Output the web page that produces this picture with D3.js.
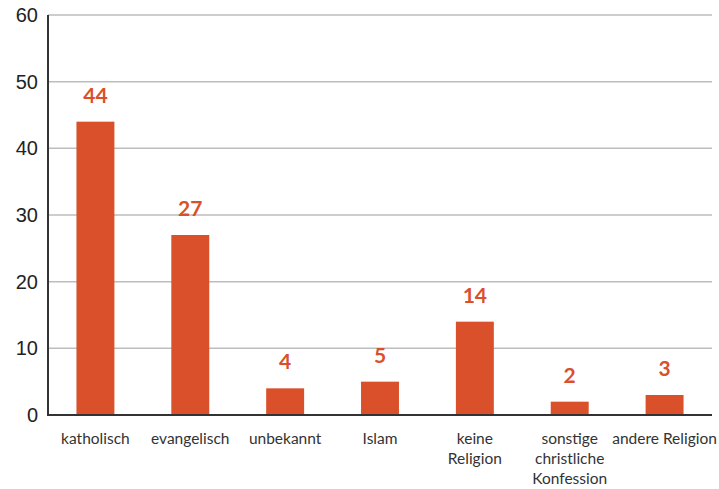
<!DOCTYPE html>
<html>
<head>
<meta charset="utf-8">
<script src="https://cdn.jsdelivr.net/npm/d3@7"></script>
<style>
  html, body { margin: 0; padding: 0; background: #fff; }
  svg { display: block; font-family: "Source Sans Pro", Lato, "Open Sans", sans-serif; }
</style>
</head>
<body>
<svg id="chart" width="719" height="489"></svg>
<script>
// Religious affiliation counts
const categories = [
  ["katholisch"],
  ["evangelisch"],
  ["unbekannt"],
  ["Islam"],
  ["keine", "Religion"],
  ["sonstige", "christliche", "Konfession"],
  ["andere Religion"]
];
const values = [44, 27, 4, 5, 14, 2, 3];
const yTicks = [0, 10, 20, 30, 40, 50, 60];

const barColor = "#d9502b";
const svg = d3.select("#chart");
const plotLeft = 48, plotRight = 712, plotTop = 15, plotBottom = 415;

const keys = categories.map(c => c.join(" "));
const x = d3.scaleBand().domain(keys).range([plotLeft, plotRight]).paddingInner(0.6).paddingOuter(0.3);
const y = d3.scaleLinear().domain([0, 60]).range([plotBottom, plotTop]);

// horizontal gridlines
svg.append("g").selectAll("line").data(yTicks.filter(t => t > 0)).join("line")
  .attr("x1", plotLeft).attr("x2", plotRight)
  .attr("y1", d => y(d)).attr("y2", d => y(d))
  .attr("stroke", "#bdbdbd").attr("stroke-width", 1.5);

// y axis labels
const yAxis = d3.axisLeft(y).tickValues(yTicks).tickSize(0).tickPadding(10);
const gy = svg.append("g").attr("transform", `translate(${plotLeft},0)`).call(yAxis);
gy.select(".domain").remove();
gy.selectAll("text").attr("font-size", 20).attr("fill", "#222").style("font-family", "inherit");

// bars
svg.append("g").selectAll("rect").data(values).join("rect")
  .attr("x", (d, i) => x(keys[i]))
  .attr("width", x.bandwidth())
  .attr("y", d => y(d))
  .attr("height", d => y(0) - y(d))
  .attr("fill", barColor);

// value labels
svg.append("g").selectAll("text").data(values).join("text")
  .attr("x", (d, i) => x(keys[i]) + x.bandwidth() / 2)
  .attr("y", d => y(d) - 19)
  .attr("text-anchor", "middle")
  .attr("font-size", 21).attr("font-weight", "bold")
  .attr("fill", barColor)
  .text(d => d);

// axis lines
svg.append("line").attr("x1", plotLeft).attr("x2", plotLeft).attr("y1", plotTop).attr("y2", plotBottom)
  .attr("stroke", "#333").attr("stroke-width", 2);
svg.append("line").attr("x1", plotLeft - 1).attr("x2", plotRight).attr("y1", plotBottom).attr("y2", plotBottom)
  .attr("stroke", "#333").attr("stroke-width", 2);

// category labels
const cat = svg.append("g").selectAll("text").data(categories).join("text")
  .attr("x", (d, i) => x(keys[i]) + x.bandwidth() / 2)
  .attr("y", 444)
  .attr("text-anchor", "middle")
  .attr("font-size", 15.5)
  .attr("fill", "#333");
cat.selectAll("tspan").data(d => d).join("tspan")
  .attr("x", function () { return d3.select(this.parentNode).attr("x"); })
  .attr("dy", (d, i) => i === 0 ? 0 : 20)
  .text(d => d);
</script>
</body>
</html>
